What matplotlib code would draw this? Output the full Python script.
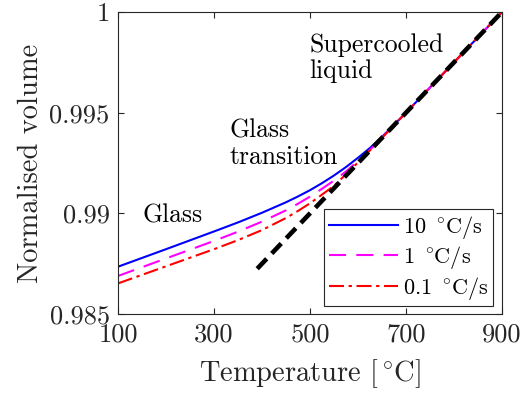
import matplotlib
matplotlib.use('Agg')
import matplotlib.pyplot as plt

plt.rcParams['font.family'] = 'serif'
plt.rcParams['font.serif'] = ['cmr10']
plt.rcParams['mathtext.fontset'] = 'cm'
plt.rcParams['axes.unicode_minus'] = False

# Temperature grid (denser through the transition)
temperature = [100, 200, 300, 350, 400, 425, 450, 475, 500, 525, 550, 575,
               600, 625, 650, 700, 800, 900]

# Normalised volume for each cooling rate
vol_10 = [0.98735, 0.98822, 0.98910, 0.98955, 0.99003, 0.99029, 0.99055, 0.99084,
          0.99115, 0.99150, 0.99188, 0.99230, 0.99276, 0.99325, 0.99380, 0.99500,
          0.99750, 1.00000]
vol_1 = [0.98689, 0.98776, 0.98863, 0.98909, 0.98959, 0.98987, 0.99015, 0.99048,
         0.99083, 0.99122, 0.99163, 0.99208, 0.99260, 0.99315, 0.99376, 0.99500,
         0.99750, 1.00000]
vol_01 = [0.98652, 0.98737, 0.98822, 0.98867, 0.98917, 0.98947, 0.98977, 0.99012,
          0.99050, 0.99093, 0.99137, 0.99194, 0.99253, 0.99313, 0.99375, 0.99500,
          0.99750, 1.00000]

# Supercooled liquid extrapolation
liquid_T = [390, 900]
liquid_V = [0.98725, 1.0]

rate_labels = ['10 $^\\circ\\!$C/s', '1 $^\\circ\\!$C/s', '0.1 $^\\circ\\!$C/s']

x_ticks = [100, 300, 500, 700, 900]
y_ticks = [0.985, 0.99, 0.995, 1.0]
y_tick_labels = ['0.985', '0.99', '0.995', '1']

AX_COLOR = '#262626'


def create_volume_plot():
    fig = plt.figure(figsize=(5.21, 3.94), dpi=100)
    ax = fig.add_axes([0.2265, 0.203, 0.737, 0.7665])

    ax.plot(temperature, vol_10, color='#0000FF', lw=1.5, label=rate_labels[0])
    ax.plot(temperature, vol_1, color='#FF00FF', lw=1.5, dashes=(8.2, 4.9),
            dash_capstyle='butt', label=rate_labels[1])
    ax.plot(temperature, vol_01, color='#FF0000', lw=1.5, dashes=(7.2, 2.2, 1.6, 2.2),
            dash_capstyle='butt', label=rate_labels[2])
    ax.plot(liquid_T, liquid_V, color='black', lw=3.3, dashes=(3, 1.6),
            dash_capstyle='butt', zorder=5)

    ax.set_xlim(100, 900)
    ax.set_ylim(0.985, 1.0)
    ax.set_xticks(x_ticks)
    ax.set_yticks(y_ticks)
    ax.set_yticklabels(y_tick_labels)

    ax.tick_params(direction='in', top=True, right=True, length=4, width=0.8,
                   color=AX_COLOR, labelsize=19, labelcolor=AX_COLOR, pad=6)
    for s in ax.spines.values():
        s.set_color(AX_COLOR)
        s.set_linewidth(0.8)

    ax.set_xlabel('Temperature [$^\\circ\\!$C]', fontsize=20.5, color=AX_COLOR, labelpad=8)
    ax.set_ylabel('Normalised volume', fontsize=20.5, color=AX_COLOR, labelpad=4)

    # region labels (va='baseline' sits on the last line)
    ax.text(152, 0.98957, 'Glass', fontsize=18.5, va='baseline')
    ax.text(333, 0.99245, 'Glass\ntransition', fontsize=18.5, va='baseline', linespacing=1.15)
    ax.text(498, 0.99672, 'Supercooled\nliquid', fontsize=18.5, va='baseline', linespacing=1.15)

    leg = ax.legend(loc='lower right', bbox_to_anchor=(0.9766, 0.0265), borderaxespad=0,
                    fontsize=16, handlelength=3.1, handletextpad=0.25, labelspacing=0.15,
                    fancybox=False, framealpha=1, edgecolor=AX_COLOR, borderpad=0.2)
    leg.get_frame().set_linewidth(0.8)

    plt.savefig('out.png', dpi=100)


if __name__ == "__main__":
    create_volume_plot()
